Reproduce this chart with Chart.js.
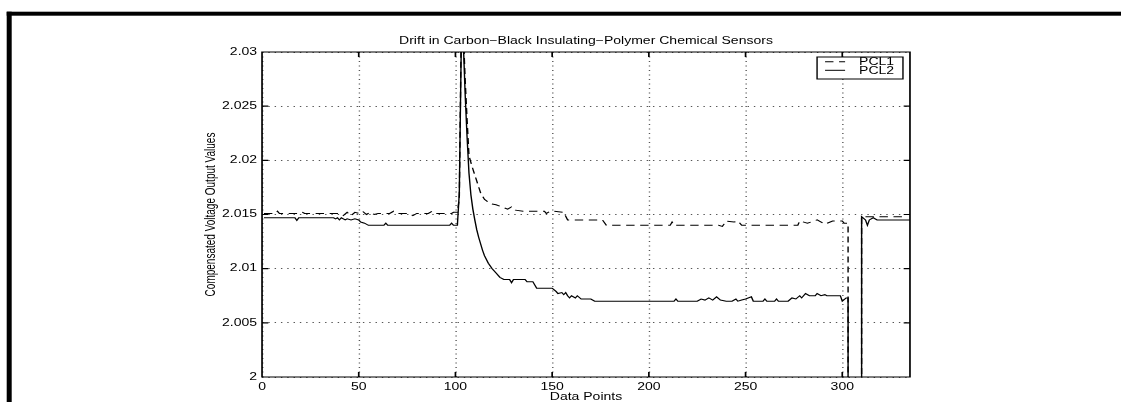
<!DOCTYPE html>
<html>
<head>
<meta charset="utf-8">
<title>Drift in Carbon−Black Insulating−Polymer Chemical Sensors</title>
<script src="https://cdn.jsdelivr.net/npm/chart.js@4.4.1/dist/chart.umd.min.js"></script>
<style>
  html, body { margin: 0; padding: 0; background: #fff; }
  canvas { display: block; }
</style>
</head>
<body>
<canvas id="drift" width="800" height="402"></canvas>
<script>
// sensor traces, listed at the samples where the line changes
const pcl1X = [1, 7, 8, 9, 20, 21, 22, 40, 42, 44, 46, 48, 50, 52, 54, 56, 58, 60, 66, 68, 70, 76, 78, 80, 86, 88, 90,
  98, 99, 101, 102, 103, 104, 105, 106, 107, 109, 111, 113, 115, 118, 121, 124, 127, 129, 131, 135, 146, 147, 149,
  151, 156, 158, 176, 178, 211, 212, 213, 236, 238, 240, 244, 246, 248, 277, 278, 282, 287, 291, 295, 300, 301, 303,
  303, 310, 310, 321, 326, 331, 333, 335];
const pcl1Y = [2.0151, 2.0151, 2.0153, 2.0151, 2.0151, 2.0152, 2.0151, 2.0151, 2.0149, 2.0152, 2.0149, 2.0152, 2.0151,
  2.0153, 2.0150, 2.0152, 2.0150, 2.0151, 2.0151, 2.0153, 2.0151, 2.0151, 2.0149, 2.0151, 2.0151, 2.0153, 2.0151,
  2.0151, 2.0152, 2.0152, 2.0165, 2.0320, 2.0322, 2.0275, 2.0238, 2.0204, 2.0192, 2.0181, 2.0170, 2.0164, 2.0160,
  2.0159, 2.0157, 2.0155, 2.0157, 2.0154, 2.0153, 2.0153, 2.0151, 2.0153, 2.0153, 2.0152, 2.0145, 2.0145, 2.0140,
  2.0140, 2.0143, 2.0140, 2.0140, 2.0139, 2.0144, 2.0143, 2.0144, 2.0140, 2.0140, 2.0144, 2.0142, 2.0145, 2.0141,
  2.0144, 2.0144, 2.0142, 2.0142, 1.99, 1.99, 2.0148, 2.0148, 2.0148, 2.0148, 2.0150, 2.0150];

const pcl2X = [1, 17, 18, 19, 37, 38, 39, 40, 41, 43, 44, 46, 48, 50, 51, 53, 55, 63, 64, 65, 97, 98, 99, 101, 102, 103,
  104, 105, 106, 107, 108, 109, 110, 111, 112, 113, 114, 115, 117, 119, 121, 123, 125, 128, 129, 130, 136, 137, 140,
  142, 150, 152, 153, 155, 156, 157, 158, 159, 160, 162, 163, 165, 170, 172, 213, 214, 215, 225, 227, 229, 231, 233,
  235, 237, 240, 243, 245, 246, 248, 250, 253, 254, 259, 260, 261, 265, 266, 267, 272, 274, 276, 278, 279, 281, 283,
  286, 287, 289, 291, 292, 299, 300, 302, 303, 303, 310, 310, 312, 313, 314, 316, 318, 335];
const pcl2Y = [2.0147, 2.0147, 2.01445, 2.0147, 2.0147, 2.0146, 2.0147, 2.0145, 2.0147, 2.0145, 2.0146, 2.0145, 2.0146,
  2.0145, 2.0143, 2.0142, 2.0140, 2.0140, 2.0142, 2.0140, 2.0140, 2.0142, 2.0140, 2.0140, 2.0170, 2.0305, 2.0312,
  2.0262, 2.0222, 2.0188, 2.0168, 2.0155, 2.0145, 2.0136, 2.0129, 2.0123, 2.0117, 2.0112, 2.0105, 2.0100, 2.0096,
  2.0092, 2.0090, 2.0090, 2.0087, 2.0090, 2.0090, 2.0088, 2.0088, 2.0082, 2.0082, 2.0079, 2.0077, 2.0078, 2.0076,
  2.0078, 2.0075, 2.0073, 2.0075, 2.0073, 2.0075, 2.0072, 2.0072, 2.0070, 2.0070, 2.0072, 2.0070, 2.0070, 2.0072,
  2.0071, 2.0073, 2.0071, 2.0074, 2.0071, 2.0070, 2.0070, 2.0072, 2.0070, 2.0071, 2.0072, 2.0074, 2.0070, 2.0070,
  2.0072, 2.0070, 2.0070, 2.0072, 2.0070, 2.0070, 2.0073, 2.0072, 2.0075, 2.0073, 2.0077, 2.0075, 2.0075, 2.0077,
  2.0075, 2.0076, 2.0075, 2.0075, 2.0070, 2.0073, 2.0073, 1.99, 1.99, 2.0148, 2.0145, 2.0140, 2.0145, 2.0147, 2.0145,
  2.0145];

const xTicks = [0, 50, 100, 150, 200, 250, 300];
const yTicks = [2, 2.005, 2.01, 2.015, 2.02, 2.025, 2.03];

// the figure is laid out 800 wide and drawn stretched across the page
const PAGE_W = 1121;
const LAYOUT_W = 800;
const SX = PAGE_W / LAYOUT_W;
const FONT = '"Liberation Sans", Arial, Helvetica, sans-serif';

Chart.defaults.font.family = FONT;
Chart.defaults.font.size = 10;
Chart.defaults.color = '#000';

// thick rule along the top and left of the page
const frame = {
  id: 'frame',
  beforeDraw(chart) {
    const ctx = chart.ctx;
    ctx.setTransform(SX, 0, 0, 1, 0, 0);
    ctx.save();
    ctx.fillStyle = '#000';
    ctx.fillRect(6.7 / SX, 11.7, LAYOUT_W, 4);
    ctx.fillRect(6.7 / SX, 11.7, 5 / SX, chart.height);
    ctx.restore();
  }
};

// closed axes box with tick marks pointing inwards on all four sides
const boxTicks = {
  id: 'boxTicks',
  afterDatasetsDraw(chart) {
    const {ctx, chartArea: a, scales: {x, y}} = chart;
    ctx.save();
    ctx.strokeStyle = '#000';
    ctx.lineWidth = 1.2;
    ctx.beginPath();
    xTicks.forEach(v => {
      const px = x.getPixelForValue(v);
      ctx.moveTo(px, a.bottom); ctx.lineTo(px, a.bottom - 5);
      ctx.moveTo(px, a.top); ctx.lineTo(px, a.top + 5);
    });
    yTicks.forEach(v => {
      const py = y.getPixelForValue(v);
      ctx.moveTo(a.left, py); ctx.lineTo(a.left + 4.5, py);
      ctx.moveTo(a.right, py); ctx.lineTo(a.right - 4.5, py);
    });
    ctx.rect(a.left, a.top, a.right - a.left, a.bottom - a.top);
    ctx.stroke();
    ctx.restore();
  }
};

// boxed legend in the upper right corner of the plot
const boxLegend = {
  id: 'boxLegend',
  afterDraw(chart) {
    const {ctx, chartArea: a} = chart;
    const w = 61.3, h = 22;
    const left = a.right - 5 - w, top = a.top + 5;
    ctx.save();
    ctx.fillStyle = '#fff';
    ctx.fillRect(left, top, w, h);
    ctx.strokeStyle = '#000';
    ctx.lineWidth = 1;
    ctx.strokeRect(left, top, w, h);
    ctx.font = '10px ' + FONT;
    ctx.fillStyle = '#000';
    ctx.textBaseline = 'alphabetic';
    chart.data.datasets.forEach((ds, i) => {
      const cy = top + 4.8 + i * 8.5;
      ctx.setLineDash(ds.borderDash || []);
      ctx.lineWidth = ds.borderWidth;
      ctx.beginPath();
      ctx.moveTo(left + 5.7, cy);
      ctx.lineTo(left + 20, cy);
      ctx.stroke();
      ctx.setLineDash([]);
      ctx.fillText(ds.label, left + 30, cy + 3.6);
    });
    ctx.restore();
  }
};

const gridLook = {
  grid: { color: '#555', lineWidth: 1, drawTicks: false },
  border: { display: false, dash: [1, 3.5] }
};

const chart = new Chart(document.getElementById('drift'), {
  type: 'line',
  data: {
    datasets: [
      {
        label: 'PCL1',
        data: pcl1X.map((x, i) => ({ x, y: pcl1Y[i] })),
        borderColor: '#000',
        borderWidth: 1,
        borderDash: [6, 4],
        pointRadius: 0,
        tension: 0,
        fill: false
      },
      {
        label: 'PCL2',
        data: pcl2X.map((x, i) => ({ x, y: pcl2Y[i] })),
        borderColor: '#000',
        borderWidth: 1,
        borderDash: [],
        pointRadius: 0,
        tension: 0,
        fill: false
      }
    ]
  },
  options: {
    responsive: false,
    animation: false,
    devicePixelRatio: 1,
    layout: { padding: { left: 0, right: LAYOUT_W - 649.4, top: 0, bottom: 0 } },
    plugins: {
      legend: { display: false },
      tooltip: { enabled: false },
      title: {
        display: true,
        text: 'Drift in Carbon−Black Insulating−Polymer Chemical Sensors',
        fullSize: false,
        color: '#000',
        font: { size: 10, weight: 'normal' },
        padding: { top: 35.5, bottom: 4.5 }
      }
    },
    scales: {
      x: {
        type: 'linear',
        min: 0,
        max: 335,
        afterBuildTicks: s => { s.ticks = xTicks.map(value => ({ value })); },
        afterFit: s => { s.height = 25; },
        ticks: { padding: 4.5, maxRotation: 0, autoSkip: false },
        title: { display: true, text: 'Data Points', padding: { top: 0, bottom: -1 } },
        ...gridLook
      },
      y: {
        type: 'linear',
        min: 2,
        max: 2.03,
        afterBuildTicks: s => { s.ticks = yTicks.map(value => ({ value })); },
        afterFit: s => { s.width = 187; },
        ticks: { padding: 3.5, callback: v => String(+v.toFixed(3)) },
        title: { display: true, text: 'Compensated Voltage Output Values', padding: { top: 144.6, bottom: 0 } },
        ...gridLook
      }
    }
  },
  plugins: [frame, boxTicks, boxLegend]
});

// widen the backing store to the page and redraw through the stretch
chart.canvas.width = PAGE_W;
chart.canvas.style.width = PAGE_W + 'px';
chart.draw();
</script>
</body>
</html>
